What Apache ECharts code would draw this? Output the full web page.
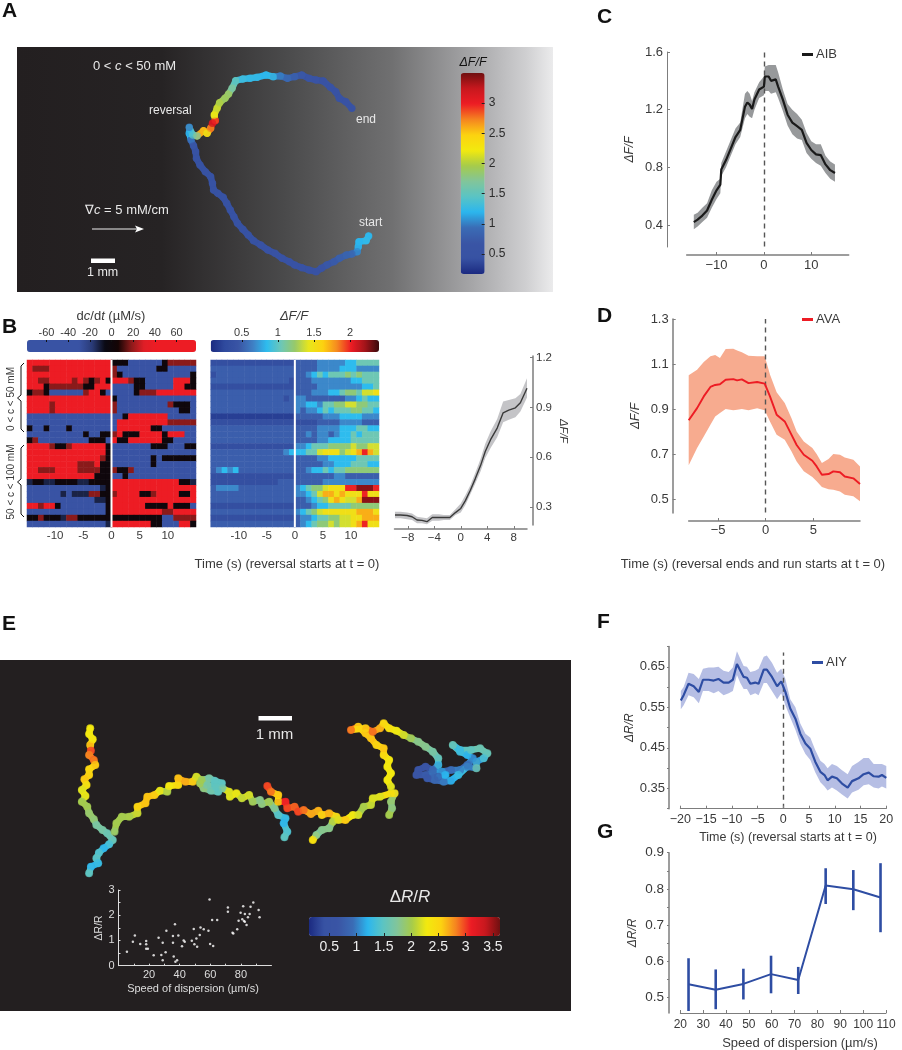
<!DOCTYPE html>
<html><head><meta charset="utf-8">
<script src="https://cdn.jsdelivr.net/npm/echarts@6/dist/echarts.min.js"></script>
<style>html,body{margin:0;padding:0;background:#fff}#c{width:902px;height:1050px}</style></head>
<body><div id="c"></div><script>
// Panel A track: [x, y, dF/F]
const trackA=[[1032,708,1.2],[1025,722,1.25],[1005,725,1.2],[1003,740,1.2],[1000,755,1.05],[985,762,.9],[970,765,.85],[950,775,.8],[935,785,.75],[915,795,.7],[900,805,.6],[885,815,.5],[865,810,.5],[845,803,.5],[825,795,.5],[810,785,.5],[790,775,.5],[770,760,.5],[750,750,.5],[730,735,.5],[710,722,.45],[695,705,.45],[680,688,.45],[665,670,.45],[655,650,.45],[645,630,.45],[635,610,.45],[625,592,.45],[610,580,.45],[598,570,.45],[595,550,.45],[590,530,.45],[575,515,.45],[560,495,.45],[550,475,.45],[548,455,.45],[542,437,.5],[535,420,.8],[530,400,1.2],[530,382,1.0],[540,405,1.4],[552,408,1.7],[570,392,2.6],[580,400,2.2],[590,385,2.7],[595,370,3.2],[603,362,3.0],[600,345,2.2],[608,325,2.1],[615,308,2.0],[630,295,1.9],[640,282,1.9],[650,265,1.7],[660,242,1.5],[680,237,1.3],[700,235,1.25],[720,232,1.25],[745,225,1.2],[765,230,1.25],[785,228,1.0],[805,235,.9],[825,230,.8],[845,225,.7],[865,235,.6],[885,240,.6],[905,243,.55],[925,262,.55],[940,275,.55],[950,295,.55],[968,305,.5],[985,325,.5]];
// Panel E track: [x, y, dR/R]
const trackE=[[248,205,2.3],[245,222,2.3],[255,238,2.3],[248,255,2.5],[250,272,3.0],[245,285,2.8],[258,300,2.9],[262,315,2.6],[245,328,2.5],[245,345,2.5],[232,358,2.6],[238,375,2.4],[225,390,2.2],[235,408,2.3],[225,425,2.0],[240,440,2.0],[245,460,1.9],[258,478,1.9],[265,495,1.7],[282,510,1.7],[295,520,1.6],[310,540,1.6],[300,553,1.4],[285,565,1.2],[272,578,1.4],[265,595,1.5],[270,610,1.3],[250,620,1.2],[245,640,1.5],
[315,515,1.9],[320,490,2.0],[335,470,2.0],[355,470,2.0],[378,460,2.1],[378,440,2.5],[400,430,2.6],[405,410,2.6],[425,405,2.6],[440,392,2.3],[460,395,2.0],[465,378,2.3],[490,375,2.4],[490,355,2.6],[510,365,2.7],[530,365,2.6],[540,350,2.2],[555,360,2.0],[575,355,1.7],[590,362,1.5],[610,370,1.5],[600,395,1.5],[580,392,1.6],[560,385,1.8],[550,370,2.0],[570,375,1.7],[595,382,1.5],[612,385,1.6],[630,395,2.2],[632,410,2.2],[650,400,2.3],[665,415,2.1],[685,405,2.2],[695,425,2.0],[715,420,1.8],[720,432,1.8],[740,425,2.0],[755,445,1.8],[765,465,1.5],[785,475,1.3],[780,490,1.2],[790,515,1.4],[782,532,1.5],
[735,378,3.0],[745,395,2.9],[765,405,2.6],[765,425,2.4],[785,425,3.1],[790,445,3.0],[810,440,2.9],[820,455,3.0],[835,450,2.9],[855,462,2.7],[875,452,2.7],[885,465,2.5],[905,460,2.7],[925,470,2.5],[915,485,2.1],[905,505,1.8],[885,510,1.8],[870,525,1.7],[860,540,2.4],
[930,480,2.2],[950,480,2.6],[970,465,2.3],[985,465,2.2],[1000,440,2.0],[1020,435,2.1],[1025,415,2.2],[1045,410,2.2],[1075,400,2.4],[1085,400,2.4],[1075,425,1.9],[1078,445,1.8],[1070,465,2.0],[1075,380,2.2],[1065,360,2.3],[1075,340,2.3],[1065,320,2.3],[1070,300,2.3],[1055,285,2.4],[1055,265,2.6],[1035,255,2.5],[1020,235,2.6],[1005,220,2.6],[985,200,2.5],[965,210,2.9],
[1005,205,2.5],[1025,215,2.9],[1045,205,2.7],[1055,190,2.5],[1070,205,2.4],[1090,212,2.3],[1110,225,2.2],[1130,235,2.0],[1150,245,1.8],[1170,260,1.8],[1190,275,1.7],[1205,295,1.6],[1205,315,1.3],
[1190,330,.9],[1170,320,.6],[1150,330,.6],[1145,345,.6],[1170,345,.7],[1190,340,.9],[1215,335,1.1],[1240,330,.9],[1265,330,1.0],[1285,315,.9],[1300,295,1.0],[1285,285,1.2],[1265,275,1.3],[1245,255,1.6],[1265,270,1.3],[1295,270,1.5],[1320,265,1.6],[1340,280,1.6],[1330,295,1.4],[1310,305,1.1],[1310,325,1.6],[1285,320,1.0],[1260,345,1.3],[1240,362,1.2],[1220,365,1.0],[1195,360,.9],[1175,355,.7],[1205,350,.8],[1225,345,1.2]];
// Inset of panel E: [speed, dR/R]
const insetPts=[[5.5,.55],[9.4,.95],[10.7,1.2],[14.2,.86],[18.1,.98],[18.1,.85],[18.1,.67],[19.2,.67],[23,.41],[26.2,1.11],[28,.42],[28.9,.91],[28.9,.22],[30.8,.53],[31.3,1.39],[36.1,.36],[35.6,.91],[35.6,1.18],[36.9,1.64],[37.2,.16],[38.3,.22],[39.1,1.2],[41.5,.77],[42.6,1],[43.3,.95],[47.9,.99],[49.2,1.45],[49.6,.85],[50.9,1.08],[51.4,.75],[53.1,1.22],[53.6,1.51],[55.7,1.44],[58.8,1.39],[59.5,2.62],[59.9,.86],[61.2,1.81],[61.9,.78],[64.5,1.81],[71.5,2.31],[71.5,2.14],[74.5,1.31],[75,1.28],[77.6,1.44],[78.5,1.78],[79.8,2.1],[80.9,1.84],[81.5,2.36],[82,1.77],[82.6,2.05],[82.6,1.74],[83.7,1.61],[84.6,1.92],[85.7,2.05],[86.3,2.34],[88.1,2.5],[91.6,2.21],[92.2,1.92]];
// Panel B heatmaps, one string per trial: 15 s before and 15 s after reversal
const dcLevels={R:62,r:18,k:0,b:-12,B:-50};
const dcRows=["RRRRRRRRRRRRRRR kkkBBBBBBkrrrrr","RrrrRRRRRRRRRRR rBBBBBBBkkBBBBB","RRRRRRRRRRRRRRR rkBBBBBBBBBBBBk","RRrrRRRRrRrkrRk RRRrkkBBBBBRRRk","RRRkrrrrrrkkRRR BBBBkkBBBBBRRkk","krrkBBBBBBrRRkB BBBBkrrrRRRRRRR","RRRRRRRRRRRRRRR kBBBBBBBBBBBBBB","RRRRrRRRRRRRRRR rBBBBBBBBBrkkkB","RRRRrRRRRRRRRRR rBBBBBBBBBBBkkB","BBBBBBBBBBBBBBB BBkRRRRRRRBBBBB","BBBBBBBBBBBBBBB BRRRRRRRRRrrrrr","kBBkBBBkBBBBBBB BRRRRRRkkBBBBBB","BBBBBBBBBBkBBkk rRkkkRRRRkRRRBB","krBBBBBBBBBkkkB RkkRRRRRRkkBBBB","RRRRrkkrRRRRRRk BBBBBBBkkkBBBkk","RRRRRRRRRRRRRRk BBBBBBBBBBBBBBB","RRRRRRRRRRRRRrk BBBBBBBkBkkkkkk","RRRRRRRRRrrrRkk BBBBBBBkBBBBBBB","RRrrrRRRRrrrrkk rkkrBBBBBBBBBBB","RRRRRRRRRRRRkkk BBkBBBBBBBBBBBB","bkkbbkkkkbbkkkk RRRRRRRRRRRRkkb","BBBBBBBBBBBBBbk RRRRRRRRRRRRRRR","BBBBBBbBbbbrrkk rRRRRkkrRRRRkkR","BBBBBBBBBBBBbbk RRRRRRRRRRRRRRR","RRrRRkBBBBBBBBk RRRRRRkkkkRkkkB","BBBBBBBBBBBBBBk RRRRRRRRRrrRRRR","kkrkkkbrrkkkkkk kkkkkkkkkBBrrrr","BBBBBBBBBBBBBBb RRRRRRRkkBBBRRk"];
const ffLevels={0:.2,1:.35,2:.5,3:.68,4:.85,5:1.05,6:1.2,7:1.38,8:1.5,9:1.72,a:2.0,b:2.25};
const ffRows=["111111111111111 222233333445555","222222222222222 222233334443333","122222222222222 223454555656555","222222222222221 222333333344555","111111111111111 222233333333445","222222222222222 222333445665778","222222222222212 332222222334544","222222222222222 334435566776655","222222222222222 323345455566554","000000000000000 222223334444333","111111111111111 111122223333222","222222222222222 222233334445544","222222222222222 223233234454555","222222222222222 222233444455555","111111111111111 334555666676677","222222222222234 445578886789a97","222222222222222 222233444445555","222222222222222 222223344455544","234342222222222 223445455666666","111111111111111 222222233222222","111111111111222 222223333333333","233332222222222 345667888aabbba","222222222222222 334579989888a88","222222222222222 223456898779bbb","111111111111111 222344555566666","222222222222222 345678888889998","111111111111111 233455667788999","222222222222222 234566767789a88"];
// Panel B trace
const bT=[-9.93,-9.1,-8.1,-7.35,-6.6,-5.85,-5.1,-4.3,-3.3,-2.55,-1.65,-.8,0,.7,1.45,2.2,3,3.7,4.5,5.5,6.4,7.25,8.25,9,10];
const bMean=[.25,.25,.247,.24,.22,.218,.21,.235,.235,.235,.235,.265,.29,.337,.40,.47,.55,.634,.705,.775,.867,.883,.897,.928,1.015];
const bHi=[.27,.27,.265,.26,.24,.235,.23,.255,.255,.25,.25,.285,.32,.37,.43,.505,.59,.68,.755,.83,.935,.945,.955,.98,1.075];
const bLo=[.23,.23,.225,.22,.2,.2,.195,.215,.215,.22,.22,.25,.265,.31,.375,.44,.515,.595,.655,.72,.81,.825,.84,.875,.96];
// Panel C
const cT=[-14.8,-14,-13,-12,-11,-10,-9.2,-9,-8,-7,-6,-5,-4,-3.5,-3,-2.5,-2,-1,0,.2,1,1.5,2.5,3,4,5,6,7,8,9,10,11,12,13,14,15];
const cMean=[.42,.437,.465,.50,.575,.64,.68,.785,.85,.93,1.01,1.06,1.22,1.25,1.235,1.205,1.27,1.34,1.36,1.43,1.43,1.40,1.41,1.36,1.27,1.165,1.11,1.085,1.06,.97,.92,.89,.885,.82,.78,.76];
const cHi=[.47,.485,.52,.55,.64,.70,.72,.83,.91,.99,1.07,1.11,1.31,1.33,1.31,1.26,1.32,1.39,1.43,1.5,1.51,1.51,1.51,1.46,1.34,1.24,1.2,1.17,1.13,1.04,.98,.96,.96,.88,.84,.82];
const cLo=[.37,.39,.42,.45,.52,.58,.62,.74,.80,.88,.96,1.01,1.14,1.17,1.15,1.14,1.20,1.28,1.3,1.33,1.33,1.31,1.32,1.28,1.19,1.09,1.03,1.0,.99,.90,.86,.83,.81,.76,.72,.70];
// Panel D
const dT=[-8.08,-7.2,-6.5,-5.8,-5.3,-4.8,-4.2,-3.4,-3,-2.5,-1.8,-.9,-.1,.45,1.15,2,2.7,3.25,4,4.9,5.35,5.9,6.6,7.1,7.8,8.3,9.2,9.9];
const dMean=[.85,.904,.956,.998,1.007,1.01,1.03,1.033,1.027,1.032,1.015,1.02,1.013,.956,.875,.845,.786,.74,.697,.67,.645,.608,.611,.623,.619,.60,.592,.567];
const dHi=[1.05,1.075,1.109,1.134,1.14,1.127,1.167,1.168,1.16,1.152,1.137,1.134,1.134,1.053,.974,.927,.86,.80,.756,.727,.70,.66,.678,.70,.697,.685,.675,.645];
const dLo=[.65,.727,.778,.83,.867,.882,.90,.894,.897,.90,.894,.903,.894,.845,.786,.764,.712,.667,.623,.598,.579,.553,.544,.541,.534,.519,.512,.49];
// Panel F
const fT=[-19.9,-19.35,-18.4,-17.4,-16.4,-15.6,-14.5,-13.5,-12.6,-11.6,-10.6,-9.8,-9,-8.35,-7.7,-7.05,-6.4,-5.45,-4.8,-3.8,-3.2,-2.2,-1.2,-.4,.4,1.35,2.35,3.3,4.3,5.25,6.2,7.2,8,8.6,9.45,10.4,11.4,12.5,13.35,14.6,15.6,16.6,17.55,18.5,19.15,20];
const fMean=[.567,.58,.608,.602,.588,.618,.618,.616,.62,.611,.611,.618,.657,.641,.625,.623,.608,.611,.608,.643,.643,.625,.602,.614,.588,.547,.522,.485,.461,.448,.416,.391,.383,.37,.379,.375,.362,.352,.368,.375,.385,.389,.38,.379,.383,.376];
const fHi=[.59,.60,.635,.632,.62,.645,.648,.648,.65,.64,.637,.648,.688,.67,.652,.65,.637,.64,.645,.675,.678,.66,.635,.645,.62,.57,.55,.51,.485,.475,.445,.418,.41,.4,.41,.405,.395,.385,.405,.415,.425,.425,.41,.41,.41,.405];
const fLo=[.545,.555,.58,.575,.56,.59,.59,.585,.59,.58,.585,.59,.63,.61,.595,.595,.58,.585,.58,.61,.61,.59,.57,.585,.555,.525,.495,.46,.435,.42,.39,.365,.355,.345,.352,.345,.335,.325,.34,.347,.358,.36,.352,.35,.355,.35];
// Panel G
const gSpeed=[23.6,35.5,47.6,59.7,71.6,83.6,95.7,107.6];
const gMean=[.536,.521,.537,.564,.548,.809,.799,.776];
const gHi=[.608,.577,.579,.615,.584,.857,.852,.871];
const gLo=[.462,.467,.494,.511,.509,.758,.741,.68];

const FF='"Liberation Sans",Arial,sans-serif', TC='#3a3a3a', AX='#7d7d7d';
const jet=['#1b2a80','#3752a3','#3a55a5','#3a6cb5','#2bb6ee','#5ac4c4','#82c59a','#a6cb4a','#f2e90f','#fcd210','#f58420','#ed1c24','#c8181e','#701010'];
const dcColors=['#3953a4','#3953a4','#3953a4','#3953a4','#3953a4','#2a3b78','#0a0a14','#140404','#8a1a1a','#e01e26','#ed1c24','#ed1c24','#ed1c24','#ed1c24'];
const ffColors=['#1b2a80','#2f4a9e','#3a55a5','#3f7fc4','#2dbcef','#6cc7b8','#97c96a','#e8e61c','#fdd20f','#f58a20','#ed1c24','#a3141a','#3a0a0c'];
const minus=v=>String(v).replace('-','\u2212');
const grids=[],xA=[],yA=[],series=[],vms=[],legends=[],gfx=[];
const grid=(l,t,w,h,bg)=>{grids.push(Object.assign({left:l,top:t,width:w,height:h,containLabel:false},bg?{show:true,backgroundColor:bg,borderWidth:0}:{}));return grids.length-1;};
const hid=(g,o)=>Object.assign({type:'value',gridIndex:g,show:false,splitLine:{show:false}},o);
function vax(g,o){
  const {min,max,ticks,labels,fmt,size=13,color=TC,line=AX,lw=1.5,inside=true,tl=3,margin=4,showLine=true,...rest}=o;
  return Object.assign({type:'value',gridIndex:g,min,max,z:10,splitLine:{show:false},
    axisLine:{show:showLine,onZero:false,lineStyle:{color:line,width:lw}},
    axisTick:{show:true,inside,length:tl,customValues:ticks,lineStyle:{color:line,width:1}},
    axisLabel:{show:true,customValues:labels,color,fontSize:size,fontFamily:FF,margin,formatter:fmt||(v=>String(v)),hideOverlap:false,showMinLabel:true,showMaxLabel:true}},rest);
}
const T=(text,x,y,o={})=>gfx.push({type:'text',x,y,z:50,rotation:o.rot||0,style:{text,fill:o.fill||TC,fontSize:o.size||13,fontFamily:FF,fontWeight:o.bold?'bold':'normal',fontStyle:o.it?'italic':'normal',align:o.align||'center',verticalAlign:'middle',rich:{i:{fontStyle:'italic',fontSize:o.size||13,fill:o.fill||TC,fontFamily:FF}}}});
function bar(l,t,w,h,lo,hi,colors,sIdx,horizontal){
  vms.push({type:'continuous',show:true,min:lo,max:hi,left:l,top:t,itemWidth:horizontal?h:w,itemHeight:horizontal?w:h,orient:horizontal?'horizontal':'vertical',seriesIndex:sIdx,dimension:2,inRange:{color:colors},calculable:false,realtime:false,text:null,padding:0,z:3,hoverLink:false,showLabel:false});
}
function trace(name,g,xi,yi,t,mean,hi,lo,col,band,w,dash){
  series.push({type:'custom',xAxisIndex:xi,yAxisIndex:yi,silent:true,z:2,data:t.map((x,i)=>[x,lo[i],hi[i]]),encode:{x:0,y:[1,2]},
    renderItem:(p,api)=>{if(p.dataIndex!==0)return null;const a=t.map((x,i)=>api.coord([x,hi[i]])),b=t.map((x,i)=>api.coord([x,lo[i]])).reverse();return{type:'polygon',shape:{points:a.concat(b)},style:{fill:band}};}});
  series.push({name,type:'line',xAxisIndex:xi,yAxisIndex:yi,z:4,symbol:'none',silent:true,data:t.map((x,i)=>[x,mean[i]]),lineStyle:{color:col,width:w},itemStyle:{color:col},
    markLine:{silent:true,symbol:'none',z:3,label:{show:false},lineStyle:{color:'#555',type:[5,4],width:1.4},data:[[{coord:[0,dash[0]]},{coord:[0,dash[1]]}]]}});
}
function leg(name,l,cy,col){legends.push({data:[{name,icon:'rect',itemStyle:{color:col}}],left:l,top:cy-7,padding:0,itemWidth:11,itemHeight:3,itemGap:0,selectedMode:false,textStyle:{fontSize:13,fontFamily:FF,color:TC,padding:[0,0,0,-2]}});}
function rowsToCells(rows,map){const out=[];rows.forEach((r,j)=>r.replace(' ','').split('').forEach((c,i)=>out.push([i,j,map[c]])));return out;}
// A track drawn as joined beads: consecutive read points are linked, far-apart ones start a new branch
function beads(xi,yi,data,width,gap){
  series.push({type:'custom',xAxisIndex:xi,yAxisIndex:yi,silent:true,z:3,data,encode:{x:0,y:1},
    renderItem:(p,api)=>{const i=p.dataIndex,q=data[i-1]||data[i],c=api.coord(data[i]);let d=api.coord(q);
      if(Math.hypot(data[i][0]-q[0],data[i][1]-q[1])>gap)d=c;
      return{type:'line',shape:{x1:d[0],y1:d[1],x2:c[0],y2:c[1]},style:{stroke:api.visual('color'),lineWidth:width,lineCap:'round'}};}});
  return series.length-1;
}

// ---------- Panel A
let g=grid(17,47,536,245,{type:'linear',x:0,y:0,x2:1,y2:0,colorStops:[{offset:0,color:'#231f20'},{offset:.27,color:'#262324'},{offset:.5,color:'#4a4a4b'},{offset:.7,color:'#707071'},{offset:.85,color:'#a6a6a8'},{offset:.95,color:'#cfcfd1'},{offset:1,color:'#ebebec'}]});
let xi=xA.push(hid(g,{min:48,max:1548}))-1, yi=yA.push(hid(g,{min:141,max:876,inverse:true}))-1;
const sLineA=beads(xi,yi,trackA,6.5,60);
series.push({type:'scatter',xAxisIndex:xi,yAxisIndex:yi,data:trackA,symbolSize:7.5,silent:true,z:4});
const sTrackA=series.length-1;
g=grid(460.7,73,24,201);
xA.push(hid(g,{min:0,max:1}));
yA.push(vax(g,{min:.17,max:3.5,position:'right',ticks:[.5,1,1.5,2,2.5,3],labels:[.5,1,1.5,2,2.5,3],showLine:false,size:12,line:'#222',inside:true,tl:3,margin:4,color:'#2b2b2b'}));
bar(460.7,73,24,201,.17,3.5,jet,[sLineA,sTrackA],false);

// ---------- Panel B heatmaps
const cats=[...Array(30).keys()].map(String), rowsC=[...Array(28).keys()].map(String);
function heat(l,w,cells){
  const gg=grid(l,360,w,167);
  const cx=xA.push({type:'category',gridIndex:gg,data:cats,show:false})-1, cy=yA.push({type:'category',gridIndex:gg,data:rowsC,show:false,inverse:true})-1;
  series.push({type:'heatmap',xAxisIndex:cx,yAxisIndex:cy,data:cells,silent:true,progressive:0,z:2,itemStyle:{borderWidth:0}});
  const s=series.length-1;
  const vx=xA.push(vax(gg,{min:-15,max:15,position:'bottom',ticks:[-10,-5,0,5,10],labels:[-10,-5,0,5,10],showLine:false,tl:0,size:11.5,margin:3}))-1, vy=yA.push(hid(gg,{min:0,max:1}))-1;
  series.push({type:'line',xAxisIndex:vx,yAxisIndex:vy,symbol:'none',silent:true,z:5,data:[[0,0],[0,1]],lineStyle:{color:'#fff',width:2}});
  return s;
}
const sDc=heat(27,169,rowsToCells(dcRows,dcLevels));
g=grid(27,340,169,12);
xA.push(vax(g,{min:-78,max:78,position:'top',ticks:[-60,-40,-20,0,20,40,60],labels:[-60,-40,-20,0,20,40,60],showLine:false,size:11,line:'#111',tl:2,margin:2,inside:true}));
yA.push(hid(g,{min:0,max:1}));
bar(27,340,169,12,-78,78,dcColors,sDc,true);
const sFf=heat(210.7,168.3,rowsToCells(ffRows,ffLevels));
g=grid(210.7,340,168.3,12);
xA.push(vax(g,{min:.07,max:2.4,position:'top',ticks:[.5,1,1.5,2],labels:[.5,1,1.5,2],showLine:false,size:11,line:'#111',tl:2,margin:2,inside:true}));
yA.push(hid(g,{min:0,max:1}));
bar(210.7,340,168.3,12,.07,2.4,ffColors,sFf,true);

// ---------- Panel B trace
g=grid(394.5,356,132.5,169);
xi=xA.push(vax(g,{min:-10,max:10,offset:4,ticks:[-8,-4,0,4,8],labels:[-8,-4,0,4,8],fmt:minus,size:11.5,margin:3}))-1;
yi=yA.push(vax(g,{min:.19,max:1.21,position:'right',offset:6,ticks:[.3,.6,.9,1.2],labels:[.3,.6,.9,1.2],size:11.5,margin:3}))-1;
trace('trace',g,xi,yi,bT,bMean,bHi,bLo,'#3a3a3a','#c4c4c7',1.4,[.2,1.26]);
T('\u0394F/F',563,431,{it:true,size:11,rot:-Math.PI/2});

// ---------- Panel C
g=grid(686.7,52,162,195);
xi=xA.push(vax(g,{min:-16.3,max:17.9,offset:8,ticks:[-10,0,10],labels:[-10,0,10],fmt:minus,margin:4}))-1;
yi=yA.push(vax(g,{min:.247,max:1.6,offset:19.7,ticks:[.4,.8,1.2,1.6],labels:[.4,.8,1.2,1.6],lw:1,fmt:v=>v.toFixed(1),name:'\u0394F/F',nameLocation:'middle',nameGap:31,nameTextStyle:{fontStyle:'italic',fontSize:12,color:TC,fontFamily:FF}}))-1;
trace('AIB',g,xi,yi,cT,cMean,cHi,cLo,'#1a1a1a','#97999b',2.2,[.25,1.6]);
leg('AIB',802,55,'#1a1a1a');

// ---------- Panel D
g=grid(688.7,319,171.3,194);
xi=xA.push(vax(g,{min:-8.08,max:9.9,offset:8,ticks:[-5,0,5],labels:[-5,0,5],fmt:minus,margin:3}))-1;
yi=yA.push(vax(g,{min:.438,max:1.3,offset:16,ticks:[.5,.7,.9,1.1,1.3],labels:[.5,.7,.9,1.1,1.3],fmt:v=>v.toFixed(1),name:'\u0394F/F',nameLocation:'middle',nameGap:31,nameTextStyle:{fontStyle:'italic',fontSize:12,color:TC,fontFamily:FF}}))-1;
trace('AVA',g,xi,yi,dT,dMean,dHi,dLo,'#ed1c24','#f7ab8f',1.9,[.44,1.3]);
leg('AVA',802,320,'#ed1c24');

// ---------- Panel E
g=grid(0,660,571,351,'#231f20');
xi=xA.push(hid(g,{min:0,max:1570}))-1; yi=yA.push(hid(g,{min:0,max:1053,inverse:true}))-1;
const sLineE=beads(xi,yi,trackE,6.5,60);
series.push({type:'scatter',xAxisIndex:xi,yAxisIndex:yi,data:trackE,symbolSize:8,silent:true,z:4});
const sTrackE=series.length-1;
g=grid(118.5,890,153,75.7);
xi=xA.push(vax(g,{min:0,max:100,ticks:[10,20,30,40,50,60,70,80,90],labels:[20,40,60,80],line:'#ddd',color:'#ddd',size:11,lw:1,tl:2,margin:4}))-1;
yi=yA.push(vax(g,{min:0,max:3,ticks:[0,.5,1,1.5,2,2.5,3],labels:[0,1,2,3],line:'#ddd',color:'#ddd',size:11,lw:1,tl:2,margin:4,name:'\u0394R/R',nameLocation:'middle',nameGap:13,nameTextStyle:{fontSize:10.5,color:'#ddd',fontFamily:FF}}))-1;
series.push({type:'scatter',xAxisIndex:xi,yAxisIndex:yi,data:insetPts,symbolSize:2.5,itemStyle:{color:'#fff'},silent:true,z:3});
g=grid(309,917,191,19);
xA.push(vax(g,{min:.13,max:3.63,ticks:[.5,1,1.5,2,2.5,3,3.5],labels:[.5,1,1.5,2,2.5,3,3.5],showLine:false,line:'#222',color:'#eee',size:14,tl:3,margin:4}));
yA.push(hid(g,{min:0,max:1}));
bar(309,917,191,19,.13,3.63,jet,[sLineE,sTrackE],true);

// ---------- Panel F
g=grid(680.3,646.5,206,162.2);
xi=xA.push(vax(g,{min:-20,max:20,ticks:[-20,-15,-10,-5,0,5,10,15,20],labels:[-20,-15,-10,-5,0,5,10,15,20],fmt:minus,size:12.5,margin:4,lw:1}))-1;
yi=yA.push(vax(g,{min:.3,max:.7,offset:11.3,ticks:[.3,.35,.4,.45,.5,.55,.6,.65,.7],labels:[.35,.45,.55,.65],inside:false,tl:2,margin:4,name:'\u0394R/R',nameLocation:'middle',nameGap:28,nameTextStyle:{fontStyle:'italic',fontSize:12,color:TC,fontFamily:FF}}))-1;
trace('AIY',g,xi,yi,fT,fMean,fHi,fLo,'#2e4da3','#b6bee4',2.2,[.3,.685]);
leg('AIY',812,663,'#2e4da3');

// ---------- Panel G
g=grid(680.3,852.7,205.7,160.3);
xi=xA.push(vax(g,{min:20,max:110,ticks:[20,30,40,50,60,70,80,90,100,110],labels:[20,30,40,50,60,70,80,90,100,110],size:12,margin:6,lw:1}))-1;
yi=yA.push(vax(g,{min:.4565,max:.9,offset:11.3,ticks:[.5,.55,.6,.65,.7,.75,.8,.85,.9],labels:[.5,.6,.7,.8,.9],inside:false,tl:2,fmt:v=>v.toFixed(1),size:13.5,margin:5,name:'\u0394R/R',nameLocation:'middle',nameGap:30,nameTextStyle:{fontStyle:'italic',fontSize:12,color:TC,fontFamily:FF}}))-1;
series.push({name:'G',type:'line',xAxisIndex:xi,yAxisIndex:yi,symbol:'none',silent:true,z:3,data:gSpeed.map((x,i)=>[x,gMean[i]]),lineStyle:{color:'#2e4da3',width:2}});
series.push({type:'custom',xAxisIndex:xi,yAxisIndex:yi,silent:true,z:4,data:gSpeed.map((x,i)=>[x,gLo[i],gHi[i]]),encode:{x:0,y:[1,2]},
  renderItem:(p,api)=>{const a=api.coord([api.value(0),api.value(1)]),b=api.coord([api.value(0),api.value(2)]);return{type:'line',shape:{x1:a[0],y1:a[1],x2:b[0],y2:b[1]},style:{stroke:'#2e4da3',lineWidth:2.6}};}});

// ---------- Labels
[['A',2,11],['B',2,327],['C',597,17],['D',597,316],['E',2,624],['F',597,622],['G',597,832]].forEach(a=>T(a[0],a[1],a[2],{bold:true,size:21,align:'left',fill:'#111'}));
const W='#e8e8e8';
T('0 < {i|c} < 50 mM',93,66,{fill:W,align:'left',size:13});
T('reversal',149,111,{fill:W,align:'left',size:12});
T('end',356,120,{fill:W,align:'left',size:12});
T('start',359,223,{fill:W,align:'left',size:12});
T('\u2207{i|c} = 5 mM/cm',85,210,{fill:W,align:'left',size:13});
T('1 mm',87,273,{fill:W,align:'left',size:12.5});
T('\u0394F/F',473,63,{it:true,size:12.5,fill:'#111'});
gfx.push({type:'rect',z:50,shape:{x:91,y:258.5,width:24,height:4.5},style:{fill:'#fff'}});
gfx.push({type:'line',z:50,shape:{x1:92,y1:229,x2:138,y2:229},style:{stroke:'#eee',lineWidth:1}});
gfx.push({type:'polygon',z:50,shape:{points:[[135,225.5],[144,229],[135,232.5],[137,229]]},style:{fill:'#fff'}});
T('d{i|c}/d{i|t} (\u00b5M/s)',111,316,{size:13});
T('\u0394F/F',294,316,{it:true,size:13});
T('Time (s) (reversal starts at t = 0)',287,564,{size:13});
T('Time (s) (reversal ends and run starts at t = 0)',753,564,{size:13});
T('Time (s) (reversal starts at t = 0)',788,838,{size:12.5});
T('Speed of dispersion (\u00b5m/s)',800,1043,{size:13});
T('0 < c < 50 mM',11,399,{size:10,rot:Math.PI/2});
T('50 < c < 100 mM',11,482,{size:10,rot:Math.PI/2});
[[363,398,432],[445,482,517]].forEach(b=>gfx.push({type:'polyline',z:50,shape:{points:[[24,b[0]],[21,b[0]+3],[21,b[1]-3],[17.5,b[1]],[21,b[1]+3],[21,b[2]-3],[24,b[2]]]},style:{stroke:'#111',lineWidth:1,fill:null}}));
gfx.push({type:'rect',z:50,shape:{x:258.5,y:716,width:33.5,height:4.5},style:{fill:'#fff'}});
T('1 mm',274.5,735,{fill:W,size:15});
T('\u0394{i|R}/{i|R}',410,897,{fill:W,size:17});
T('Speed of dispersion (\u00b5m/s)',193,989,{fill:'#ddd',size:11});

const chart=echarts.init(document.getElementById('c'),null,{renderer:'canvas'});
chart.setOption({animation:false,backgroundColor:'#fff',tooltip:{show:false},grid:grids,xAxis:xA,yAxis:yA,visualMap:vms,legend:legends,series,graphic:{elements:gfx}});
</script></body></html>
